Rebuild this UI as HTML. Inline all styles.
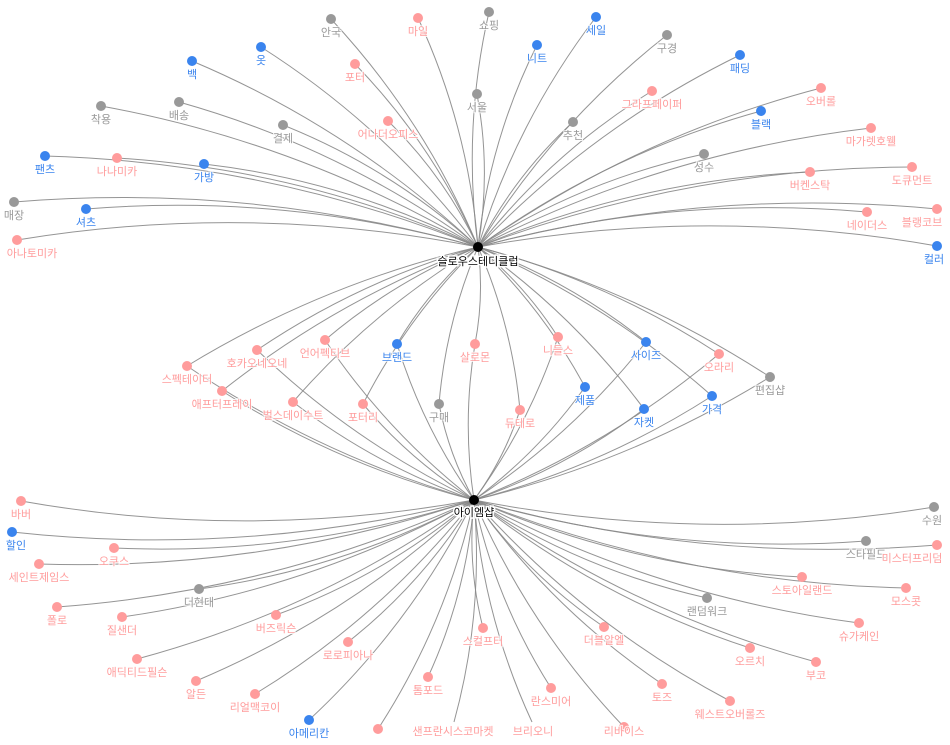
<!DOCTYPE html>
<html><head><meta charset="utf-8"><style>
html,body{margin:0;padding:0;background:#fff;}
svg{display:block;}
text{font-family:"Liberation Sans","Noto Sans CJK KR",sans-serif;font-size:11px;text-anchor:middle;paint-order:stroke;stroke:#fff;stroke-width:2px;stroke-opacity:0.8;}
.g{fill:#999}.b{fill:#3a84ee}.p{fill:#ff9c9c}
.h{fill:#000;font-size:11px;stroke-width:3px;stroke-opacity:1;}
</style></head><body>
<svg id="s" width="950" height="745" viewBox="0 0 950 745" xmlns="http://www.w3.org/2000/svg">
<g id="edges" fill="none" stroke="#888" stroke-width="1" stroke-opacity="0.9"></g>
<g id="nodes"></g>
<g id="labels">
<text class="g" x="331" y="36">안국</text>
<text class="p" x="418" y="35">마일</text>
<text class="b" x="261" y="64">옷</text>
<text class="b" x="192" y="78">백</text>
<text class="p" x="355" y="81">포터</text>
<text class="g" x="101" y="123">착용</text>
<text class="g" x="179" y="119">배송</text>
<text class="g" x="283" y="142">결제</text>
<text class="p" x="388" y="138">어나더오피스</text>
<text class="b" x="45" y="173">팬츠</text>
<text class="p" x="117" y="175">나나미카</text>
<text class="b" x="204" y="181">가방</text>
<text class="g" x="14" y="219">매장</text>
<text class="b" x="86" y="226">셔츠</text>
<text class="p" x="32" y="257">아나토미카</text>
<text class="g" x="477" y="111">서울</text>
<text class="g" x="489" y="29">쇼핑</text>
<text class="b" x="596" y="34">세일</text>
<text class="b" x="537" y="62">니트</text>
<text class="g" x="667" y="52">구경</text>
<text class="b" x="740" y="72">패딩</text>
<text class="p" x="652" y="108">그라프페이퍼</text>
<text class="p" x="821" y="105">오버롤</text>
<text class="b" x="761" y="128">블랙</text>
<text class="g" x="573" y="139">추천</text>
<text class="p" x="871" y="145">마가렛호웰</text>
<text class="g" x="704" y="171">성수</text>
<text class="p" x="810" y="189">버켄스탁</text>
<text class="p" x="912" y="184">도큐먼트</text>
<text class="p" x="867" y="229">네이더스</text>
<text class="p" x="922" y="226">블랭코브</text>
<text class="b" x="934" y="263">컬러</text>

<text class="p" x="187" y="383">스펙테이터</text>
<text class="p" x="257" y="367">호카오네오네</text>
<text class="p" x="325" y="357">언어펙티브</text>
<text class="b" x="397" y="361">브랜드</text>
<text class="p" x="475" y="361">살로몬</text>
<text class="p" x="558" y="354">니들스</text>
<text class="b" x="646" y="359">사이즈</text>
<text class="p" x="719" y="371">오라리</text>
<text class="p" x="222" y="408">애프터프레이</text>
<text class="p" x="293" y="419">벌스데이수트</text>
<text class="p" x="363" y="421">포터리</text>
<text class="g" x="439" y="421">구매</text>
<text class="p" x="520" y="427">듀테로</text>
<text class="b" x="585" y="404">제품</text>
<text class="b" x="644" y="426">자켓</text>
<text class="b" x="712" y="413">가격</text>
<text class="g" x="770" y="394">편집샵</text>

<text class="p" x="21" y="518">바버</text>
<text class="b" x="16" y="549">할인</text>
<text class="p" x="114" y="565">오쿠스</text>
<text class="p" x="39" y="581">세인트제임스</text>
<text class="g" x="199" y="606">더현대</text>
<text class="p" x="57" y="624">폴로</text>
<text class="p" x="122" y="634">질샌더</text>
<text class="p" x="276" y="632">버즈릭슨</text>
<text class="p" x="137" y="676">애딕티드필슨</text>
<text class="p" x="348" y="659">로로피아나</text>
<text class="p" x="196" y="698">알든</text>
<text class="p" x="255" y="711">리얼맥코이</text>
<text class="b" x="309" y="737">아메리칸</text>
<text class="p" x="428" y="694">톰포드</text>
<text class="p" x="453" y="735">샌프란시스코마켓</text>
<text class="g" x="932" y="524">수원</text>
<text class="g" x="866" y="558">스타필드</text>
<text class="p" x="912" y="562">미스터프리덤</text>
<text class="p" x="802" y="594">스토아일랜드</text>
<text class="p" x="906" y="605">모스콧</text>
<text class="g" x="707" y="615">랜덤워크</text>
<text class="p" x="859" y="640">슈가케인</text>
<text class="p" x="483" y="645">스컬프터</text>
<text class="p" x="604" y="644">더블알엘</text>
<text class="p" x="750" y="665">오르치</text>
<text class="p" x="816" y="679">부코</text>
<text class="p" x="551" y="705">란스미어</text>
<text class="p" x="662" y="701">토즈</text>
<text class="p" x="730" y="718">웨스트오버롤즈</text>
<text class="p" x="533" y="735">브리오니</text>
<text class="p" x="624" y="735">리바이스</text>

<text class="h" x="478" y="265">슬로우스테디클럽</text>
<text class="h" x="474" y="516">아이엠샵</text>
</g>
</svg>
<script>
(function(){
var A=[478,247],B=[474,500];
var G='#999',Bl='#3a84ee',P='#ff9c9c';
var tops=[[331,19,G],[418,18,P],[261,47,Bl],[192,61,Bl],[355,64,P],[101,106,G],[179,102,G],[283,125,G],[388,121,P],[45,156,Bl],[117,158,P],[204,164,Bl],[14,202,G],[86,209,Bl],[17,240,P],[477,94,G],[489,12,G],[596,17,Bl],[537,45,Bl],[667,35,G],[740,55,Bl],[652,91,P],[821,88,P],[761,111,Bl],[573,122,G],[871,128,P],[704,154,G],[810,172,P],[912,167,P],[867,212,P],[937,209,P],[937,246,Bl]];
var mids=[[187,366,P],[257,350,P],[325,340,P],[397,344,Bl],[475,344,P],[558,337,P],[646,342,Bl],[719,354,P],[222,391,P],[293,402,P],[363,404,P],[439,404,G],[520,410,P],[585,387,Bl],[644,409,Bl],[712,396,Bl],[770,377,G]];
var bots=[[21,501,P],[12,532,Bl],[114,548,P],[39,564,P],[199,589,G],[57,607,P],[122,617,P],[276,615,P],[137,659,P],[348,642,P],[196,681,P],[255,694,P],[309,720,Bl],[378,729,P],[428,677,P],[454,722,null],[934,507,G],[866,541,G],[937,545,P],[802,577,P],[906,588,P],[707,598,G],[859,623,P],[483,628,P],[604,627,P],[750,648,P],[816,662,P],[551,688,P],[662,684,P],[730,701,P],[532,722,null],[624,727,P]];
var E=document.getElementById('edges'),N=document.getElementById('nodes'),ns='http://www.w3.org/2000/svg';
function edge(n,h,o,k,mode){
  var dx=h[0]-n[0],dy=h[1]-n[1],L=Math.sqrt(dx*dx+dy*dy);
  var px=-dy/L,py=dx/L,mx=(n[0]+h[0])/2,my=(n[1]+h[1])/2;
  var d;
  if(mode)d=(mx-476)*px;else d=(mx-o[0])*px+(my-o[1])*py;
  if(d<0){px=-px;py=-py;}
  var cx=mx+px*k*L,cy=my+py*k*L;
  var p=document.createElementNS(ns,'path');
  p.setAttribute('d','M'+n[0]+','+n[1]+'Q'+cx.toFixed(1)+','+cy.toFixed(1)+' '+h[0]+','+h[1]);
  E.appendChild(p);
}
function dot(n,r,c){if(!c)return;var e=document.createElementNS(ns,'circle');e.setAttribute('cx',n[0]);e.setAttribute('cy',n[1]);e.setAttribute('r',r);e.setAttribute('fill',c);N.appendChild(e);}
tops.forEach(function(n){edge(n,A,B,0.09,0);});
bots.forEach(function(n){edge(n,B,A,0.09,0);});
mids.forEach(function(n){edge(n,A,B,0.08,1);edge(n,B,A,0.08,1);});
tops.concat(mids,bots).forEach(function(n){dot(n,5,n[2]);});
dot(A,5,'#000');dot(B,5,'#000');
})();
</script>
</body></html>
